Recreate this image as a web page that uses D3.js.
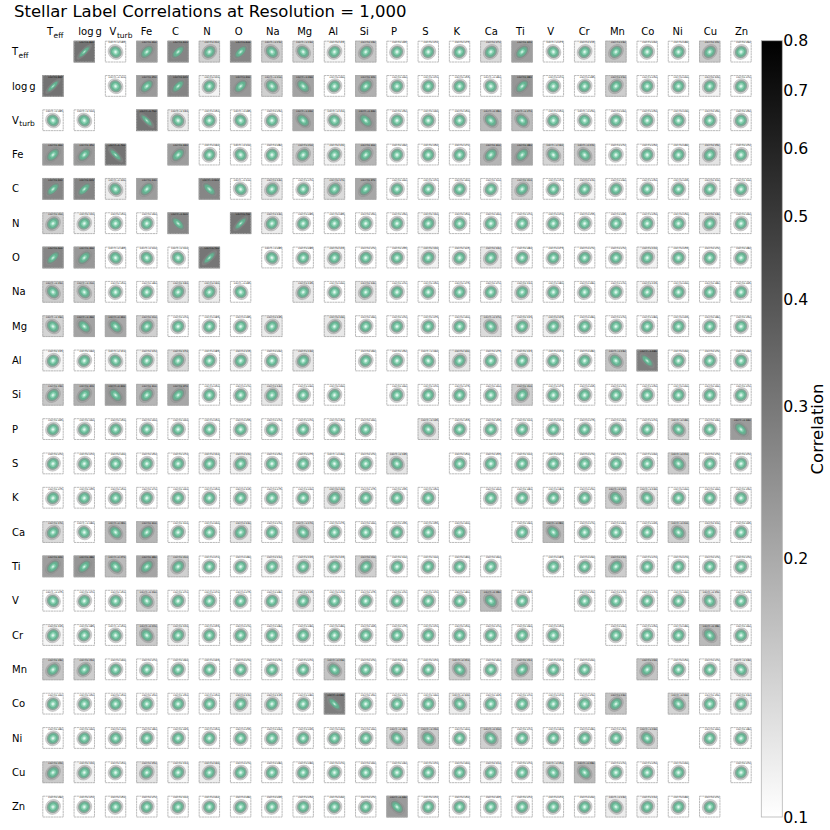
<!DOCTYPE html>
<html>
<head>
<meta charset="utf-8">
<script src="https://cdnjs.cloudflare.com/ajax/libs/d3/7.8.5/d3.min.js"></script>
<style>
    html, body { margin: 0; padding: 0; background: #fff; }
    svg text { font-family: "DejaVu Sans", sans-serif; fill: #000; }
</style>
</head>
<body>
<svg id="chart" width="830" height="830"></svg>
<script>
// Stellar label correlations (upper triangle, mirrored when drawn)
const labels = ['Teff', 'logg', 'Vturb', 'Fe', 'C', 'N', 'O', 'Na', 'Mg', 'Al', 'Si', 'P', 'S', 'K', 'Ca', 'Ti', 'V', 'Cr', 'Mn', 'Co', 'Ni', 'Cu', 'Zn'];

const corrTeff = [0.832, -0.085, 0.46, 0.61, 0.20, 0.60, -0.21, -0.19, 0.115, 0.23, 0.065, 0.07, 0.075, 0.17, 0.42, -0.075, 0.115, 0.24, 0.06, 0.08, 0.22, 0.09];
const corrLogg = [-0.10, 0.45, 0.62, 0.12, 0.46, -0.20, -0.39, 0.09, 0.32, 0.06, 0.07, 0.055, -0.08, 0.48, 0.07, 0.085, 0.21, 0.05, 0.06, 0.12, 0.07];
const corrVturb = [-0.79, -0.13, 0.05, -0.085, 0.05, -0.36, -0.11, -0.44, 0.05, 0.04, 0.05, -0.28, -0.27, 0.05, -0.05, 0.06, 0.05, 0.03, 0.05, 0.05];
const corrFe = [0.43, 0.09, -0.10, 0.08, 0.20, 0.12, 0.30, 0.06, 0.05, 0.07, 0.30, 0.38, -0.19, -0.22, 0.07, 0.05, 0.08, 0.15, 0.07];
const corrC = [-0.60, -0.10, 0.14, 0.07, 0.17, 0.37, 0.06, 0.07, 0.06, 0.10, 0.20, 0.07, 0.12, 0.09, 0.05, 0.065, 0.11, 0.10];
const corrN = [0.76, 0.13, 0.085, 0.085, 0.05, 0.05, 0.11, 0.05, 0.06, 0.07, 0.07, 0.055, 0.065, 0.05, 0.05, 0.13, 0.06];
const corrO = [-0.085, 0.085, 0.115, 0.07, 0.055, 0.12, 0.105, 0.14, 0.08, 0.075, 0.07, 0.07, 0.12, 0.055, 0.07, 0.08];
const corrNa = [0.135, 0.06, 0.14, 0.07, 0.05, 0.075, 0.07, 0.11, 0.08, 0.08, 0.07, 0.115, 0.06, 0.08, 0.065];
const corrMg = [0.14, 0.09, 0.07, 0.075, 0.06, -0.17, 0.115, 0.125, 0.08, 0.07, 0.08, 0.065, 0.08, 0.05];
const corrAl = [0.09, 0.05, -0.09, 0.14, 0.075, 0.115, 0.07, 0.08, -0.24, -0.68, 0.06, 0.07, 0.06];
const corrSi = [0.06, 0.07, 0.075, 0.06, 0.20, 0.075, 0.065, 0.07, 0.05, 0.06, 0.06, 0.07];
const corrP = [-0.145, 0.055, 0.055, 0.10, 0.07, 0.075, 0.06, 0.07, -0.18, 0.04, -0.44];
const corrS = [0.05, 0.055, 0.10, 0.07, 0.07, 0.07, 0.06, -0.21, 0.07, 0.07];
const corrK = [0.06, 0.08, 0.08, 0.05, -0.21, -0.13, 0.06, 0.06, 0.05];
const corrCa = [0.09, -0.28, 0.07, 0.06, 0.065, -0.20, 0.11, 0.065];
const corrTi = [0.085, 0.09, 0.21, 0.07, 0.07, 0.07, 0.07];
const corrV = [0.05, 0.07, 0.07, 0.06, -0.15, 0.07];
const corrCr = [0.06, 0.05, 0.08, -0.28, 0.06];
const corrMn = [0.24, 0.05, 0.07, -0.13];
const corrCo = [-0.19, 0.05, 0.11];
const corrNi = [0.06, 0.08];
const corrCu = [0.07];

const colorbarTicks = [0.1, 0.2, 0.3, 0.4, 0.5, 0.6, 0.7, 0.8];

const upperRows = [corrTeff, corrLogg, corrVturb, corrFe, corrC, corrN, corrO, corrNa, corrMg, corrAl, corrSi,
    corrP, corrS, corrK, corrCa, corrTi, corrV, corrCr, corrMn, corrCo, corrNi, corrCu];

// Flatten into one record per off-diagonal cell
const cells = [];
upperRows.forEach((row, i) => {
    row.forEach((corr, k) => {
        const j = i + 1 + k;
        cells.push({ row: i, col: j, corr: corr });
        cells.push({ row: j, col: i, corr: corr });
    });
});

const svg = d3.select('#chart');

const cellW = 21.4;
const cellH = 21.8;
const x = d3.scalePoint().domain(d3.range(labels.length)).range([42.3, 730.3]);
const y = d3.scalePoint().domain(d3.range(labels.length)).range([40.7, 795.7]);

// Same log norm for the cell shading and the colorbar
const norm = d3.scaleLog().domain([0.1, 0.8]).range([0, 1]).clamp(true);
const shade = v => d3.interpolateRgb('#ffffff', '#000000')(norm(v));

// Contour shells of the 2D density, biggest first. Inner shells shrink as the correlation grows.
const shells = [
    { r: 7.5, shrink: 0, fill: '#969696', fillOpacity: 0.38, stroke: '#858585', strokeOpacity: 0.5, strokeWidth: 0.6 },
    { r: 6.0, shrink: 0, fill: '#6c9887', fillOpacity: 0.72, stroke: '#777777', strokeOpacity: 0.5, strokeWidth: 0.5 },
    { r: 4.8, shrink: 0.1, fill: '#63b391', fillOpacity: 0.95, stroke: 'none', strokeOpacity: 0, strokeWidth: 0 },
    { r: 3.3, shrink: 0.45, fill: '#84cfae', fillOpacity: 0.95, stroke: 'none', strokeOpacity: 0, strokeWidth: 0 },
    { r: 2.0, shrink: 0.6, fill: '#b5e5d1', fillOpacity: 1, stroke: 'none', strokeOpacity: 0, strokeWidth: 0 },
    { r: 1.0, shrink: 0.8, fill: '#e8f8f2', fillOpacity: 1, stroke: 'none', strokeOpacity: 0, strokeWidth: 0 }
];

// Title
svg.append('text')
    .attr('x', 14)
    .attr('y', 17)
    .attr('font-size', 16.5)
    .text('Stellar Label Correlations at Resolution = 1,000');

// T_eff, log g and V_turb need subscripts or a thin gap
function writeLabel(sel, name) {
    if (name === 'Teff' || name === 'Vturb') {
        sel.append('tspan').text(name[0]);
        sel.append('tspan').attr('font-size', 7.5).attr('dy', 2.5).attr('dx', 0.5).text(name.slice(1));
    } else if (name === 'logg') {
        sel.text('log\u2009g');
    } else {
        sel.text(name);
    }
}

const columnHead = svg.append('g').attr('class', 'col-labels');
labels.forEach((name, i) => {
    columnHead.append('text')
        .attr('x', x(i) + 4.7)
        .attr('y', 35)
        .attr('font-size', 10)
        .call(writeLabel, name);
});

const rowHead = svg.append('g').attr('class', 'row-labels');
labels.forEach((name, i) => {
    rowHead.append('text')
        .attr('x', 12)
        .attr('y', y(i) + cellH / 2 + 3.6)
        .attr('font-size', 10)
        .call(writeLabel, name);
});

// Cells
const cell = svg.append('g').attr('class', 'cells')
    .selectAll('g')
    .data(cells)
    .enter()
    .append('g')
    .attr('transform', d => `translate(${x(d.col)},${y(d.row)})`);

cell.append('rect')
    .attr('width', cellW)
    .attr('height', cellH)
    .attr('fill', d => shade(Math.abs(d.corr)))
    .attr('fill-opacity', 0.55);

cell.append('rect')
    .attr('x', 0.5)
    .attr('y', 0.5)
    .attr('width', cellW - 1)
    .attr('height', cellH - 1)
    .attr('fill', 'none')
    .attr('stroke', '#a8a8a8')
    .attr('stroke-width', 0.8)
    .attr('stroke-dasharray', '2.2,0.5');

shells.forEach(s => {
    const radius = d => s.r * (1 - s.shrink * Math.abs(d.corr));
    cell.append('ellipse')
        .attr('transform', d => `translate(${cellW / 2},${cellH / 2 + 0.3}) rotate(${d.corr > 0 ? -45 : 45})`)
        .attr('rx', d => radius(d) * Math.sqrt(1 + Math.abs(d.corr)))
        .attr('ry', d => radius(d) * Math.sqrt(1 - Math.abs(d.corr)))
        .attr('fill', s.fill)
        .attr('fill-opacity', s.fillOpacity)
        .attr('stroke', s.stroke)
        .attr('stroke-opacity', s.strokeOpacity)
        .attr('stroke-width', s.strokeWidth);
});

const fmt = d3.format('.3f');
cell.append('text')
    .attr('x', cellW - 1)
    .attr('y', 2.8)
    .attr('text-anchor', 'end')
    .attr('font-size', 2.5)
    .text(d => 'Corr=' + fmt(d.corr));

// Colorbar
const barTop = 40.7;
const barBottom = 817;
const barLeft = 761.3;
const barWidth = 21;
const barScale = d3.scaleLog().domain([0.1, 0.8]).range([barBottom, barTop]);

const grad = svg.append('defs').append('linearGradient')
    .attr('id', 'barGrad')
    .attr('x1', 0).attr('y1', 0).attr('x2', 0).attr('y2', 1);
grad.append('stop').attr('offset', '0%').attr('stop-color', shade(0.8));
grad.append('stop').attr('offset', '100%').attr('stop-color', shade(0.1));

svg.append('rect')
    .attr('x', barLeft)
    .attr('y', barTop)
    .attr('width', barWidth)
    .attr('height', barBottom - barTop)
    .attr('fill', 'url(#barGrad)')
    .attr('stroke', '#b5b5b5')
    .attr('stroke-width', 0.8);

const barAxis = d3.axisRight(barScale)
    .tickValues(colorbarTicks)
    .tickFormat(d3.format('.1f'))
    .tickSize(0)
    .tickPadding(1);

const barG = svg.append('g')
    .attr('transform', `translate(${barLeft + barWidth},0)`)
    .call(barAxis);
barG.select('.domain').remove();
barG.selectAll('text').attr('font-size', 15.7).attr('font-family', '"DejaVu Sans", sans-serif');

svg.append('text')
    .attr('transform', 'translate(823,429) rotate(-90)')
    .attr('text-anchor', 'middle')
    .attr('font-size', 16.5)
    .text('Correlation');
</script>
</body>
</html>
